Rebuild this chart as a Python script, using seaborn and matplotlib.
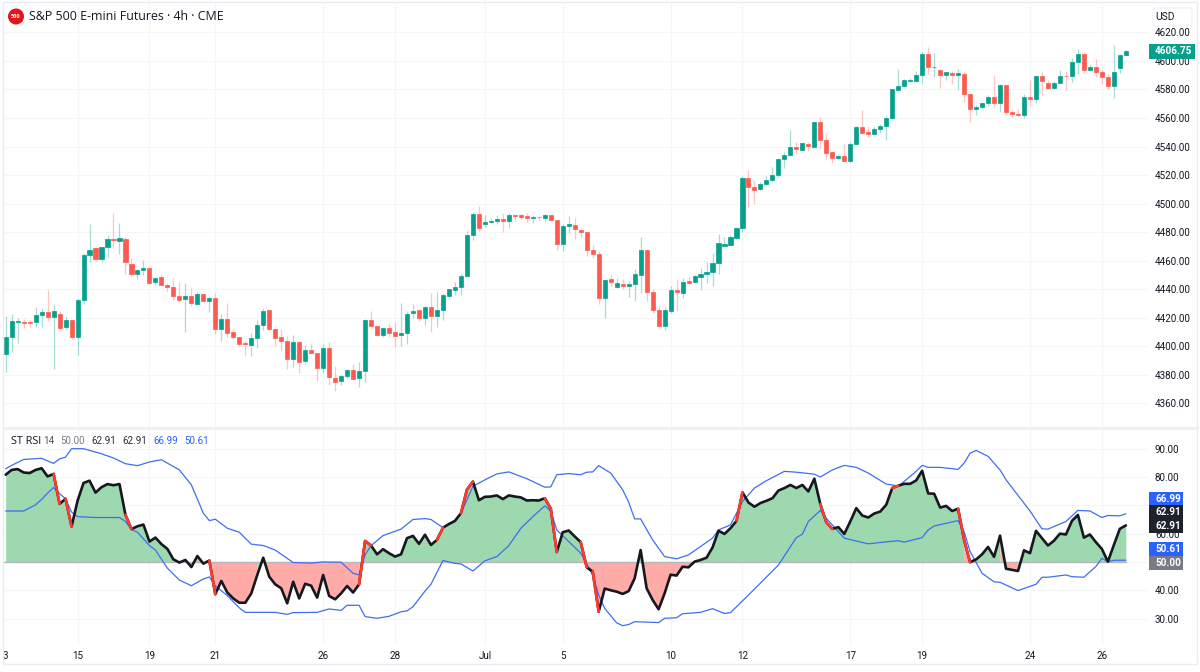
import numpy as np
import pandas as pd
import matplotlib
matplotlib.use("Agg")
import matplotlib.pyplot as plt
from matplotlib.patches import Rectangle, Ellipse, FancyBboxPatch
from matplotlib.lines import Line2D
import seaborn as sns

# ---------- data ----------
open_ = [4394.7,4406.9,4417.4,4417.4,4417.4,4416.9,4421.8,4424.2,4420.9,4422.8,
4413.4,4418.6,4406.4,4432.8,4463.7,4468.8,4461.1,4469.3,4474.9,4473.9,
4475.3,4457.8,4450.6,4453.4,4455,4445,4448.9,4443.3,4441.7,4435.2,
4433,4435.6,4430,4437,4432.1,4434.2,4412.3,4419.3,4409.9,4406.9,
4402.7,4401.3,4405.7,4414.8,4425.8,4412.5,4406.7,4404.1,4391,4403.1,
4389.8,4397.5,4395.4,4384.5,4399.2,4377.9,4375.8,4379.1,4383.3,4377.5,
4383,4418.8,4414.1,4408.3,4413,4409.9,
4407.7,4409.1,4423.6,4425.2,4419.6,4427.8,4421,4425.2,4435,4439.5,4441.3,4449.3,4477.8,4492.9,
4485.5,4487.1,4487.8,4489.4,4487.6,4492.2,4491.8,4491.1,4489.9,4490.8,4489.7,4491.8,4488.3,4471.5,
4484.3,4485,4481.7,4480.1,4467.3,4464.9,
4434.1,4446.9,4441.3,4443.7,4442.3,4443.4,4450.2,4467.3,4437.8,4425.4,4414,4425,4439.2,4437.6,
4445.8,4444.8,4448.8,4450.4,4451.8,4458.1,4470.5,4471,4475.9,4482.6,4518,4511.7,4510.1,4513.8,
4516.6,4520.1,4531.1,4533.9,4539.5,4537.9,4542.1,4540,4557.2,4544.9,4536,4531.8,4533.4,4529.9,
4541.8,4553.7,4550.2,4548.6,4552.6,4554.4,4560.3,4579.9,4582.7,4586,4586.2,4590.2,4605.1,4595.5,
4593.4,4590.2,4591.8,4590.4,4591.1,4576.9,4566.1,4567.7,4570.8,4575,4570.3,4582.9,4564.2,4562.8,
4562.4,4575,4573.4,4589.5,4584.8,4581.3,4584.8,4589.7,4589.2,4599.5,4605.1,4593.9,4595.8,4592.3,
4588.5,4582.7,4594.8,4603.9]
close = [4406.9,4417.9,4417.9,4416.5,4416.2,4422.1,4424.2,4420.9,4424.9,4413.2,
4418.6,4406.4,4432.8,4463.7,4467.6,4461.1,4469.7,4474.9,4474.4,4475.6,
4459,4450.6,4453.4,4455,4444.7,4448.2,4443.1,4441.7,4435.4,4432.8,
4435.2,4430.5,4437,4432.1,4434.2,4412.3,4419.3,4409.7,4406.7,4402,
4401.8,4406.2,4414.8,4425.1,4412.5,4406.2,4404.1,4391.2,4403.1,4388.7,
4397.5,4395.7,4384.5,4399.2,4378.2,4374.7,4379.1,4383.5,4377.2,4383,
4418.8,4414.6,4408,4412.7,4409.5,4407.4,
4409.3,4422.9,4425,4419.6,4427.3,4421,4425.2,4436,4439.9,4441.6,4449.5,4478,4492.9,4482.7,
4487.3,4487.8,4489.4,4487.6,4492,4491.3,4490.6,4489.7,4490.8,4490.4,4492.2,4488.3,4471.7,4484.5,
4485.5,4482,4479.9,4467.3,4464.4,4434.1,
4446.7,4444.8,4444.1,4442.3,4443.7,4450.7,4467.3,4437.8,4425.4,4414,4425.2,4439.2,4438,4445.3,
4444.6,4449.3,4450.7,4451.8,4458.1,4472.4,4471.5,4476.4,4482.9,4518.3,4511.7,4509.4,4514.1,4516.6,
4520.4,4531.3,4534.4,4539.7,4538.3,4542.5,4540.2,4557,4544.9,4535.3,4531.8,4533.7,4530.2,4541.8,
4553.7,4549.8,4549.1,4552.6,4554.4,4560.3,4580.1,4582.7,4586.4,4586.9,4590.4,4605.1,4595.5,4596,
4590.2,4592,4590.4,4591.3,4576.6,4566.4,4567.7,4570.6,4575,4570.3,4583.2,4564,4562.8,4562.1,
4575,4573.6,4589.7,4585.7,4581.3,4584.8,4589.7,4589.2,4599.5,4604.6,4593.9,4596,4592,4588.5,
4582.5,4592.3,4604.2,4606.75]
high = [4421.6,4423,4420.2,4419.5,4418.3,4427.7,4427,4439.8,4429.5,4424.9,
4421.1,4418.6,4434,4465.5,4485.4,4469.7,4469.7,4477.7,4493.8,4486.1,
4476.5,4462,4454.5,4460.6,4455,4448.7,4450.8,4444.5,4447.8,4445,
4444.7,4441.2,4438.4,4437,4435.6,4437.5,4423,4430.7,4413.2,4406.9,
4403.9,4409.5,4418.6,4427,4425.8,4412.5,4412.5,4407.6,4408,4403.6,
4400.8,4402,4395.4,4401.5,4403.1,4385.9,4379.6,4383.8,4387.5,4388.9,
4419.5,4424.9,4414.6,4413.2,4416,4417,
4430.6,4424.5,4429.9,4425.2,4428.2,4437.1,4437.8,4437.1,4440.4,4445.1,4451.1,4480.8,4494.1,4498.6,
4491.8,4489.9,4492.2,4493.2,4493.6,4492.5,4493.6,4493.6,4491.8,4491.3,4492.7,4492,4488.3,4485.7,
4491.3,4489.9,4483.1,4480.6,4470.8,4466.8,
4446.9,4450.9,4448.1,4446.9,4446,4454.2,4476.4,4468.4,4440.2,4428.2,4427.8,4442,4446.9,4448.1,
4448.8,4449.7,4455.1,4458.8,4465.1,4478.7,4476.6,4477.8,4483.8,4519.2,4523.7,4516.2,4515,4519.7,
4525.7,4532,4536.2,4551.6,4543,4542.5,4543.5,4557.5,4560.7,4549.1,4536.5,4534.8,4542.1,4543.5,
4554.2,4565.6,4553.5,4553.5,4555.8,4562.4,4580.6,4594.4,4587.4,4587.8,4593,4606.5,4609.5,4605.8,
4594.4,4592.5,4592.7,4594.4,4592,4576.9,4569.4,4571,4576.4,4590.4,4583.6,4583.2,4566.4,4566.4,
4576.9,4586.9,4590.2,4592.5,4586.4,4585.7,4593.4,4592.7,4602.3,4608.6,4606.5,4597.6,4601.4,4593.4,
4591.8,4610.9,4604.6,4607.7]
low = [4381.9,4395.9,4402.5,4413.2,4413.9,4413.9,4413.9,4417.6,4383.8,4411.8,
4411.8,4404.3,4393.8,4429.5,4459,4460.9,4459.4,4462.5,4468.8,4465,
4451,4449.6,4447.1,4450.3,4444.5,4443.1,4442.6,4438,4432.4,4431.4,
4410.4,4428.2,4430,4431.6,4423.9,4408.8,4403.6,4406.4,4406.2,4400.6,
4393.8,4393.1,4398.7,4411.3,4411.3,4400.6,4397.1,4383.8,4385.6,4381.4,
4387.7,4394.7,4376,4381,4372.8,4368.4,4373.2,4377.5,4376.5,4371.4,
4374.7,4413.9,4407.6,4406.7,4406.4,4399.4,
4400.2,4401.4,4420.1,4417.5,4414.7,4409.8,4413.3,4418.2,4433.4,4435.7,4436,4449.3,4474.5,4480.8,
4483.6,4486.6,4485.5,4479.9,4482.9,4487.6,4489,4487.1,4486.6,4488.5,4488,4488,4467.7,4466.5,
4479.2,4475.4,4476.6,4463,4461.9,4429.9,
4419.8,4442.3,4440.6,4439.9,4434.3,4431.7,4437.1,4431.7,4423.6,4413.5,4411.4,4423.6,4424.5,4433.6,
4442.7,4444.1,4439.5,4444.1,4442.3,4450.9,4470.3,4470.8,4475,4480.3,4497.5,4500,4509.4,4513.4,
4515.7,4518,4525.3,4533.7,4534.6,4537.9,4536.7,4540,4538.3,4531.1,4528.5,4530.6,4529.7,4529.5,
4541.8,4549.1,4546.5,4548.2,4549.3,4544.9,4559.1,4579.9,4582.2,4585,4585.3,4584.8,4591.1,4588.5,
4581.3,4586.9,4583.9,4579.7,4571,4557.5,4562.1,4567.3,4568.7,4567.7,4564,4562.4,4560.5,4561.7,
4560.3,4568.7,4570.8,4576.2,4580.4,4580.8,4584.6,4579.9,4585.3,4590.6,4591.3,4593.4,4589,4584.1,
4580.6,4574,4591.3,4603.7]

rsi = [80.8,82.5,82.8,81.6,81.4,82.5,83.1,80.2,81.1,70.5,72.3,62.5,71.6,77.9,78.7,74.5,76.4,77.5,77.1,77.5,
66.6,61.6,62.6,63.2,57.2,58.6,56.3,54.6,50.9,49.8,50.7,48.2,52.1,49.4,50.5,38.6,43.3,39.2,37.1,35.6,
35.6,38.9,45.4,51.5,44.8,42.1,40.7,35.4,43,37.1,42.3,41.6,37.4,45.4,38,36.8,38.9,41.5,39.2,42.1,
57.4,55.8,52.7,54.5,53.1,51.9,52.7,58.4,59.2,56.4,59.6,56,57.8,62.1,63.4,64.5,67.2,75.5,78.4,71.8,
73,73.1,73.5,72.2,73.5,73.1,72.8,71.7,71.8,71.7,72.5,68.8,53.5,60.5,61.1,59,57,48.1,46.6,32.4,
40.6,40,39.5,38.7,39.7,44.2,54.2,40.7,36.6,33.3,38.9,45.5,45.2,48.3,48.1,50.1,50.7,51.5,55.1,61,
59.9,61.9,64.5,74.6,71,69.5,70.8,71.6,72.5,75.2,76.1,77.2,76.1,77.2,74.9,79.4,70.4,64,61.7,62.3,
59.9,64.3,69,66.4,65.7,67.1,67.8,70.2,76.1,76.9,77.6,77.6,78.8,82.2,74.2,74.1,69.2,69.8,68,68.8,
57.8,49.9,50.9,52.7,55.3,51.8,59.3,47.6,47.2,46.8,54.1,53.1,61,58.4,55.8,57.5,60,59.7,64.5,66.6,
58.6,59.7,57,54.6,50.1,56,61.7,62.91]
red_segments = [8,10,20,34,59,60,72,76,77,90,91,96,98,122,136,137,148,159,160]

upper_idx = [0,1,3,6,8,9,10,11,13,16,18,20,22,24,26,29,31,33,34,35,37,39,41,43,45,48,51,53,56,58,59,60,61,63,66,
68,70,71,73,75,76,78,80,82,84,87,90,91,92,94,96,97,98,99,101,103,104,105,106,108,110,112,114,118,119,121,123,125,127,130,132,
135,136,138,140,142,144,147,148,149,151,152,153,154,156,159,160,161,162,164,166,167,169,171,173,174,177,179,181,183,184,186,187]
upper_val = [82.9,84.1,86.2,86.6,84.8,86.4,87,90,90,88.2,86.7,84.7,84,85.3,86.1,82.5,77.2,67.2,64.6,65.1,61.9,60.5,56.3,55.8,54.2,49.8,49.6,50,49.9,46,45.4,52.5,55.8,59.3,61.6,
65,65.3,65,62.1,64.3,67.2,76.7,79,81.1,81.8,79.4,76.4,76.5,80.8,81.2,80.8,81.7,81.8,84,81.4,75.5,71.1,65.2,65.2,57.8,51.9,51.1,52.5,58.4,61.3,63.1,71.3,76.1,78.7,82,81.7,
81,80,82.5,84.1,83.4,81.4,77.5,77.2,76.7,80.2,82,84.1,83.4,83.4,82.7,84.9,88.4,89.4,87.3,82.5,79,73.5,68,61.7,61.6,64.3,68.2,68,65.7,66.4,66.3,66.99]

lower_idx = [0,3,5,6,7,8,9,10,11,12,15,19,20,21,22,24,25,27,29,31,33,34,35,37,39,40,43,45,47,48,52,54,56,57,59,60,62,64,66,
67,68,70,71,73,75,76,78,80,82,84,86,88,90,91,92,94,96,98,99,100,102,103,104,105,109,110,112,113,116,118,120,121,124,129,132,
133,134,136,137,140,144,147,149,150,153,154,155,159,160,161,163,165,166,169,172,173,174,177,178,180,182,183,184,185,187]
lower_val = [68,68,70.2,72.1,74.3,76.3,74.1,72.3,67.6,66,65.7,65.7,64.3,61.4,60.5,55.8,54.2,47.8,43.6,41.6,44,44.7,41.6,38.1,33.8,32.2,32.2,32.2,31.5,32.1,32.2,33.4,32.9,34.7,34.7,30.7,30.1,30.8,32.4,
32.7,34.2,39.7,42.1,50.5,49.5,49.3,46.8,50.4,51.9,55.8,61.9,66,69.8,68,61.3,57.2,53.1,45.4,38.3,33.6,28.5,27.5,27.9,28.9,28.6,30.1,30.3,31.7,32.2,33.5,31.8,32.1,38.3,48.9,58.6,
59.8,64.3,68.2,65.4,58.4,56.4,57.1,57.5,57,58.6,61.3,62.7,64.6,60.7,53.7,46,43,42.8,39.9,42.1,44.6,44.6,45.4,44.8,44.6,48.4,51.3,50.1,50.6,50.61]

price_ticks = [4360,4380,4400,4420,4440,4460,4480,4500,4520,4540,4560,4580,4600,4620]
rsi_ticks = [30,40,50,60,70,80,90]
date_idx = [0,12,24,35,53,65,80,93,111,123,141,153,171,183]
date_lab = ["3","15","19","21","26","28","Jul","5","10","12","17","19","24","26"]
legend_vals = ["ST RSI","14","50.00","62.91","62.91","66.99","50.61"]
rsi_tags = ["66.99","62.91","62.91","50.61","50.00"]
title = "S&P 500 E-mini Futures · 4h · CME"
last_price = "4606.75"

# ---------- style ----------
GREEN, RED = "#06A08C", "#FF5A4F"
W, H = 1200, 672
sns.set_theme(style="white")
plt.rcParams["font.family"] = ["Open Sans", "DejaVu Sans"]
NUM = ["Roboto", "DejaVu Sans"]
NSIZE = 7.1
TXT = "#131722"; GRID = "#F5F6F8"

fig = plt.figure(figsize=(W/100, H/100), dpi=100, facecolor="white")
def frac(x0, y0, x1, y1):
    return [x0/W, 1-y1/H, (x1-x0)/W, (y1-y0)/H]

ax1 = fig.add_axes(frac(3, 3, 1148, 427))
ax2 = fig.add_axes(frac(3, 430, 1148, 645))
xlim = (-0.446, 190.7)

for ax in (ax1, ax2):
    ax.set_xlim(*xlim)
    for s in ax.spines.values():
        s.set_visible(False)
    ax.yaxis.tick_right()
    ax.set_xticks(date_idx[1:])
    ax.grid(True, color=GRID, lw=0.8)
    ax.set_axisbelow(True)

# ---------- candles ----------
df = pd.DataFrame({"i": range(len(open_)), "o": open_, "h": high, "l": low, "c": close})
cols = np.where(df.c >= df.o, GREEN, RED)
ax1.vlines(df.i, df.l, df.h, colors=cols, lw=0.9, alpha=0.35, zorder=2)
ax1.bar(df.i, (df.c-df.o).abs(), bottom=df[["o","c"]].min(axis=1), width=0.68,
        color=cols, edgecolor=cols, linewidth=0.5, zorder=3)
ax1.set_ylim(4343.5, 4640.6)
ax1.set_yticks(price_ticks)
ax1.set_yticklabels([f"{p:.2f}" for p in price_ticks], family=NUM)
ax1.tick_params(axis="y", length=0, pad=5, labelsize=NSIZE, labelcolor=TXT)
ax1.tick_params(axis="x", length=0, labelbottom=False)

# ---------- RSI pane ----------
x = np.arange(len(rsi))
r = np.array(rsi)
seg_green = r[1:] >= 50
start = 0
for k in range(1, len(seg_green)+1):
    if k == len(seg_green) or seg_green[k] != seg_green[start]:
        xs = x[start:k+1]; ys = r[start:k+1]
        ax2.fill_between(xs, ys, 50, color="#9DD8AE" if seg_green[start] else "#FFABA7",
                         lw=0, zorder=1.5)
        start = k
ax2.axhline(50, color="#B4B7BB", lw=1.0, zorder=1.8, xmax=(x[-1]-xlim[0])/(xlim[1]-xlim[0]))
sns.lineplot(x=upper_idx, y=upper_val, ax=ax2, color="#3F6DF2", lw=0.9, estimator=None, sort=False, zorder=3)
sns.lineplot(x=lower_idx, y=lower_val, ax=ax2, color="#3F6DF2", lw=0.9, estimator=None, sort=False, zorder=3)
sns.lineplot(x=x, y=r, ax=ax2, color="#15181E", lw=1.9, estimator=None, sort=False, zorder=4)
for s in red_segments:
    ax2.plot(x[s:s+2], r[s:s+2], color="#FF3B30", lw=1.9, zorder=5, solid_capstyle="round")
ax2.set_ylim(20.67, 96.6)
ax2.set_yticks(rsi_ticks)
ax2.set_yticklabels([f"{v:.2f}" for v in rsi_ticks], family=NUM)
ax2.tick_params(axis="y", length=0, pad=5, labelsize=NSIZE, labelcolor=TXT)
ax2.set_xticks(date_idx)
ax2.set_xticklabels(date_lab, family=NUM)
ax2.tick_params(axis="x", length=0, pad=4, labelsize=NSIZE, labelcolor=TXT)
ax2.xaxis.get_gridlines()[0].set_visible(False)
ax2.set_xlabel(""); ax2.set_ylabel("")

# ---------- frame, separators ----------
fig.add_artist(Rectangle((3/W, 1-664/H), 1194/W, 662/H, transform=fig.transFigure,
                         fill=False, ec="#E9ECF1", lw=1))
fig.add_artist(Line2D([3/W, 1197/W], [1-428/H]*2, color="#EDF0F4", lw=2))

def ftext(px, py, s, **kw):
    kw.setdefault("va", "center"); kw.setdefault("ha", "left"); kw.setdefault("fontsize", 8)
    kw.setdefault("color", TXT); kw.setdefault("zorder", 12)
    fig.text(px/W, 1-py/H, s, **kw)

def tag(y0, y1, x0, x1, color):
    fig.add_artist(Rectangle((x0/W, 1-y1/H), (x1-x0)/W, (y1-y0)/H, transform=fig.transFigure,
                             fc=color, ec="none", zorder=10))

# header
fig.add_artist(Ellipse((16/W, 1-16.5/H), 16/W, 16/H, transform=fig.transFigure, fc="#E2151B", ec="none", zorder=10))
ftext(16, 16.5, "500", color="white", fontsize=4, ha="center", fontweight="bold")
ftext(29, 16.5, title, fontsize=8.9)

# USD box
fig.add_artist(FancyBboxPatch((1153/W, 1-26/H), 39/W, 18/H, boxstyle="round,pad=0,rounding_size=0.003",
                              transform=fig.transFigure, fc="white", ec="#EDF0F4", lw=0.8, zorder=10))
ftext(1155, 17, "USD", fontsize=7.4, family=NUM)

# last price
tag(44, 59, 1149, 1195, "#06A08C")
ftext(1155, 51.5, last_price, color="white", fontsize=NSIZE, family=NUM, fontweight="bold")

# RSI header
leg_x = [11, 43, 60, 91, 122, 153, 184]
leg_c = [TXT, "#50535E", "#7B7E88", "#2A2E39", "#2A2E39", "#2962FF", "#2962FF"]
for n, (px, s, c) in enumerate(zip(leg_x, legend_vals, leg_c)):
    if n == 0:
        ftext(px, 441, s, color=c, fontsize=7.8)
    else:
        ftext(px, 441, s, color=c, fontsize=NSIZE, family=NUM)

# RSI tags
tag_pos = [(492, 506), (505, 519), (519, 533), (542, 556), (556, 570)]
tag_col = ["#2962FF", "#1E222D", "#1E222D", "#2962FF", "#787B86"]
for (y0, y1), c, s in zip(tag_pos, tag_col, rsi_tags):
    tag(y0, y1, 1149, 1183, c)
    ftext(1155, (y0+y1)/2, s, color="white", fontsize=NSIZE, family=NUM, fontweight="bold")

fig.savefig("out.png", dpi=100, facecolor="white")
